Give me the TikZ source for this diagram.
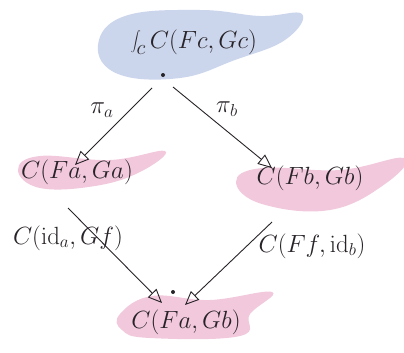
\documentclass[tikz,border=0pt]{standalone}
\usetikzlibrary{arrows.meta}
\definecolor{washblue}{RGB}{120,145,205}
\definecolor{washpink}{RGB}{215,100,155}
\definecolor{ink}{RGB}{40,35,40}
\tikzset{
  lbl/.style={text=ink, font=\fontsize{26}{30}\selectfont, inner sep=1pt},
  slbl/.style={text=ink, font=\fontsize{23}{27}\selectfont, inner sep=1pt},
  arr/.style={draw=ink, line width=0.9pt, -{Triangle[open, length=14pt, width=12pt]}},
  blue wash/.style={fill=washblue, fill opacity=0.38, draw=none},
  pink wash/.style={fill=washpink, fill opacity=0.35, draw=none},
  dotnode/.style={circle, fill=ink, inner sep=0pt, minimum size=4pt}
}
\begin{document}
\begin{tikzpicture}[x=1pt, y=-1pt]
\useasboundingbox (0,0) rectangle (404,353);
\fill[white] (0,0) rectangle (404,353);
% washes
\fill[blue wash] plot[smooth cycle, tension=0.7] coordinates {(98,45) (125,16) (200,10) (260,16) (302,14) (285,40) (235,60) (180,78) (118,74)};
\fill[pink wash] plot[smooth cycle, tension=0.7] coordinates {(18,170) (40,156) (110,160) (165,151) (140,172) (95,186) (40,188)};
\fill[pink wash] plot[smooth cycle, tension=0.7] coordinates {(236,182) (262,168) (340,170) (404,158) (385,184) (330,210) (262,204)};
\fill[pink wash] plot[smooth cycle, tension=0.7] coordinates {(120,314) (152,296) (210,300) (272,292) (250,314) (240,336) (150,338) (122,330)};
% nodes
\node[lbl, font=\fontsize{29}{33}\selectfont] (top) at (194,42) {$\displaystyle\int_c C(Fc,Gc)$};
\node[dotnode] (tdot) at (163,75) {};
\node[lbl] (fga) at (77,172) {$C(Fa,Ga)$};
\node[lbl] (fgb) at (310,178) {$C(Fb,Gb)$};
\node[lbl] (fagb) at (186,322) {$C(Fa,Gb)$};
\node[dotnode] (bdot) at (173,292) {};
% connector ends
\coordinate (s1) at (152,88);
\coordinate (e1) at (75,165);
\coordinate (s2) at (173,87);
\coordinate (e2) at (272,168);
\coordinate (s3) at (68,208);
\coordinate (e3) at (162,303);
\coordinate (s4) at (272,222);
\coordinate (e4) at (185,305);
\draw[arr] (s1) -- (e1);
\draw[arr] (s2) -- (e2);
\draw[arr] (s3) -- (e3);
\draw[arr] (s4) -- (e4);
% labels
\node[slbl] (pa) at (102,110) {$\pi_a$};
\node[slbl] (pb) at (227,109) {$\pi_b$};
\node[slbl] (l3) at (68,238) {$C(\mathrm{id}_a, Gf)$};
\node[slbl] (l4) at (312,246) {$C(Ff, \mathrm{id}_b)$};
\end{tikzpicture}
\end{document}
